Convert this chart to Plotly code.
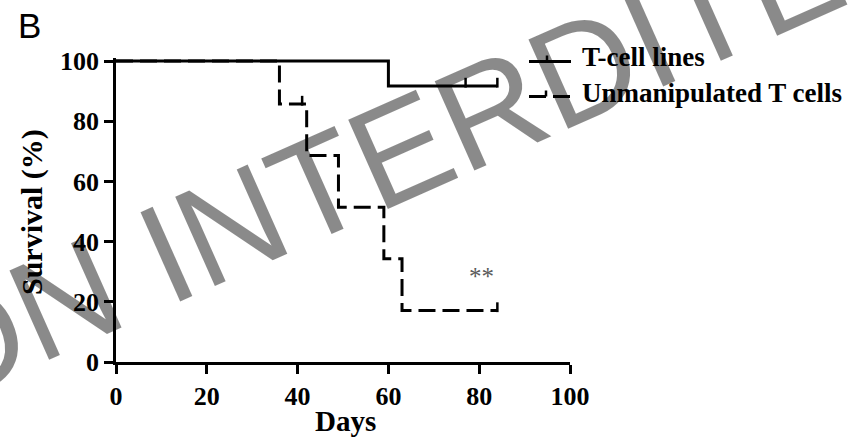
import plotly.graph_objects as go

# ---------------- data ----------------
tcell_days = [0, 60, 84]
tcell_surv = [100, 91.7, 91.7]
tcell_censor_days = [41, 77, 84]

unmanip_days = [0, 36, 42, 49, 59, 63, 84]
unmanip_surv = [100, 85.7, 68.6, 51.4, 34.3, 17.1, 17.1]
unmanip_censor_days = [41, 84]

x_ticks = [0, 20, 40, 60, 80, 100]
y_ticks = [0, 20, 40, 60, 80, 100]

series_names = ["T-cell lines", "Unmanipulated T cells"]
signif_label = "**"
signif_pos = (80.5, 28.5)
panel_label = "B"
x_title = "Days"
y_title = "Survival (%)"
watermark = "ON INTERDITE"

# ---------------- helpers ----------------
W, H = 848, 442
L, R, T, B = 116, 278, 58, 80
PW, PH = W - L - R, H - T - B


def px(x):
    return (x - L) / PW


def py(y):
    return 1 - (y - T) / PH


def step_value(days, surv, d):
    v = surv[0]
    for dd, s in zip(days, surv):
        if dd <= d:
            v = s
    return v


SERIF = "Liberation Serif"
SANS = "Liberation Sans"
DASH = "17px,7px"

fig = go.Figure()

fig.add_trace(go.Scatter(x=unmanip_days, y=unmanip_surv, mode="lines",
                         line=dict(color="black", width=3, dash=DASH, shape="hv"),
                         showlegend=False, hoverinfo="skip"))
fig.add_trace(go.Scatter(x=tcell_days, y=tcell_surv, mode="lines",
                         line=dict(color="black", width=3, shape="hv"),
                         showlegend=False, hoverinfo="skip"))

# censor ticks (short vertical marks above the curve)
for days, surv, cens in [(tcell_days, tcell_surv, tcell_censor_days),
                         (unmanip_days, unmanip_surv, unmanip_censor_days)]:
    cy = [step_value(days, surv, d) + 1.1 for d in cens]
    fig.add_trace(go.Scatter(x=cens, y=cy, mode="markers", cliponaxis=False,
                             marker=dict(symbol="line-ns", size=7,
                                         line=dict(color="black", width=2.5)),
                             showlegend=False, hoverinfo="skip"))

axis_common = dict(showline=True, linecolor="black", linewidth=2.5,
                   ticks="outside", ticklen=9, tickwidth=2.5, tickcolor="black",
                   showgrid=False, zeroline=False,
                   tickfont=dict(family=SERIF, size=26, color="black", weight="bold"))

fig.update_xaxes(range=[0, 100], tickvals=x_ticks, **axis_common)
fig.update_yaxes(range=[0, 101], tickvals=y_ticks, **axis_common)

shapes = []
annotations = []

# manual legend
leg_x0, leg_x1 = 529, 571
leg_rows = [(61.5, "solid", 547), (96.5, DASH, 546)]
for (yy, dash, tx), name in zip(leg_rows, series_names):
    shapes.append(dict(type="line", xref="paper", yref="paper",
                       x0=px(leg_x0), x1=px(leg_x1), y0=py(yy), y1=py(yy),
                       line=dict(color="black", width=3, dash=dash)))
    shapes.append(dict(type="line", xref="paper", yref="paper",
                       x0=px(tx), x1=px(tx), y0=py(yy), y1=py(yy - 6),
                       line=dict(color="black", width=2.5)))
    annotations.append(dict(text=name, xref="paper", yref="paper",
                            x=px(580), y=py(yy - 4), xanchor="left", yanchor="middle",
                            showarrow=False,
                            font=dict(family=SERIF, size=27, color="black", weight="bold")))

annotations.append(dict(text=signif_label, x=signif_pos[0], y=signif_pos[1],
                        xref="x", yref="y", showarrow=False,
                        font=dict(family=SERIF, size=25, color="#5a5a5a")))

annotations.append(dict(text=panel_label, xref="paper", yref="paper",
                        x=px(16), y=py(25), xanchor="left", yanchor="middle",
                        showarrow=False, font=dict(family=SANS, size=35, color="black")))

annotations.append(dict(text=x_title, xref="paper", yref="paper",
                        x=px(345), y=py(421), xanchor="center", yanchor="middle",
                        showarrow=False,
                        font=dict(family=SERIF, size=29, color="black", weight="bold")))

annotations.append(dict(text=y_title, xref="paper", yref="paper",
                        x=px(32), y=py(212), xanchor="center", yanchor="middle",
                        textangle=-90, showarrow=False,
                        font=dict(family=SERIF, size=30, color="black", weight="bold")))

annotations.append(dict(text=watermark, xref="paper", yref="paper",
                        x=px(375), y=py(160), xanchor="center", yanchor="middle",
                        textangle=-24, showarrow=False,
                        font=dict(family=SANS, size=142, color="rgba(0,0,0,0.46)")))

fig.update_layout(width=W, height=H, margin=dict(l=L, r=R, t=T, b=B),
                  paper_bgcolor="white", plot_bgcolor="white",
                  shapes=shapes, annotations=annotations, showlegend=False)

fig.write_html("out.html")
